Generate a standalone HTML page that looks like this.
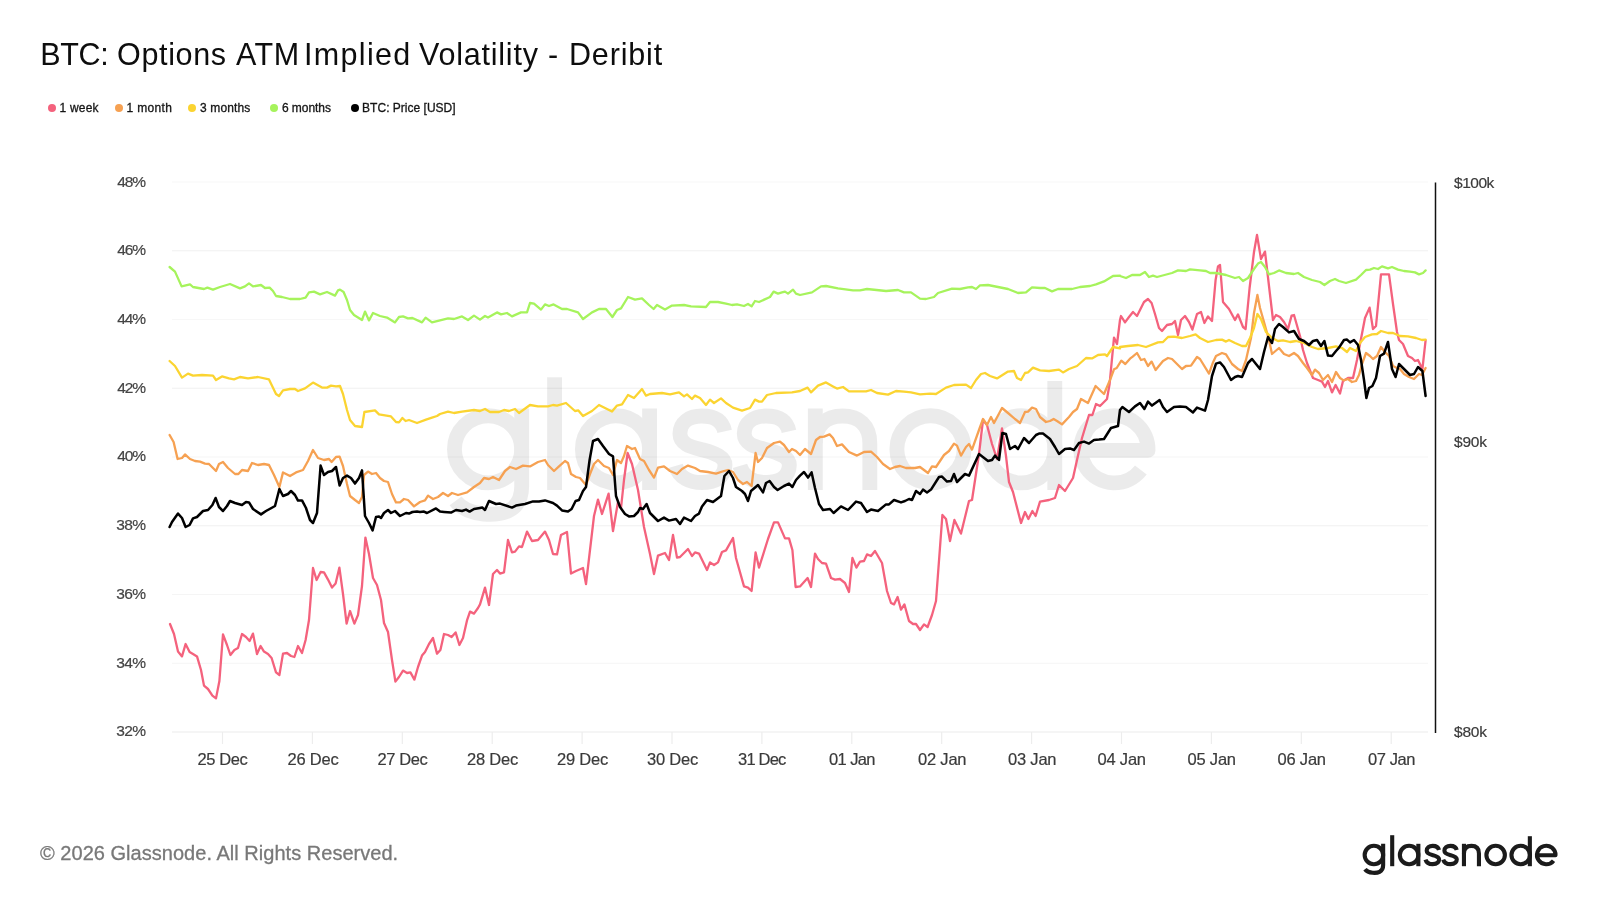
<!DOCTYPE html><html><head><meta charset="utf-8"><title>BTC: Options ATM Implied Volatility - Deribit</title>
<style>
html,body{margin:0;padding:0;background:#fff;}
body{width:1600px;height:900px;position:relative;overflow:hidden;font-family:"Liberation Sans",sans-serif;}
#txt{position:absolute;left:0;top:0;width:1600px;height:900px;will-change:transform;}
.t{position:absolute;white-space:nowrap;line-height:1;}
.dot{position:absolute;width:8px;height:8px;border-radius:50%;top:104px;}
</style></head><body>
<svg width="1600" height="900" viewBox="0 0 1600 900" style="position:absolute;left:0;top:0">
<line x1="172" x2="1428" y1="182.00" y2="182.00" stroke="#f8f8f8" stroke-width="1.2"/>
<line x1="172" x2="1428" y1="250.75" y2="250.75" stroke="#f0f0f0" stroke-width="1.2"/>
<line x1="172" x2="1428" y1="319.50" y2="319.50" stroke="#f7f7f7" stroke-width="1.2"/>
<line x1="172" x2="1428" y1="388.25" y2="388.25" stroke="#f0f0f0" stroke-width="1.2"/>
<line x1="172" x2="1428" y1="457.00" y2="457.00" stroke="#f6f6f6" stroke-width="1.2"/>
<line x1="172" x2="1428" y1="525.75" y2="525.75" stroke="#f0f0f0" stroke-width="1.2"/>
<line x1="172" x2="1428" y1="594.50" y2="594.50" stroke="#f5f5f5" stroke-width="1.2"/>
<line x1="172" x2="1428" y1="663.25" y2="663.25" stroke="#f5f5f5" stroke-width="1.2"/>
<line x1="172" x2="1428" y1="732.00" y2="732.00" stroke="#ececec" stroke-width="1.2"/>
<line x1="222.5" x2="222.5" y1="732" y2="744" stroke="#ededed" stroke-width="1.2"/>
<line x1="312.4" x2="312.4" y1="732" y2="744" stroke="#ededed" stroke-width="1.2"/>
<line x1="402.3" x2="402.3" y1="732" y2="744" stroke="#ededed" stroke-width="1.2"/>
<line x1="492.2" x2="492.2" y1="732" y2="744" stroke="#ededed" stroke-width="1.2"/>
<line x1="582.1" x2="582.1" y1="732" y2="744" stroke="#ededed" stroke-width="1.2"/>
<line x1="672.0" x2="672.0" y1="732" y2="744" stroke="#ededed" stroke-width="1.2"/>
<line x1="761.9" x2="761.9" y1="732" y2="744" stroke="#ededed" stroke-width="1.2"/>
<line x1="851.8" x2="851.8" y1="732" y2="744" stroke="#ededed" stroke-width="1.2"/>
<line x1="941.7" x2="941.7" y1="732" y2="744" stroke="#ededed" stroke-width="1.2"/>
<line x1="1031.6" x2="1031.6" y1="732" y2="744" stroke="#ededed" stroke-width="1.2"/>
<line x1="1121.5" x2="1121.5" y1="732" y2="744" stroke="#ededed" stroke-width="1.2"/>
<line x1="1211.4" x2="1211.4" y1="732" y2="744" stroke="#ededed" stroke-width="1.2"/>
<line x1="1301.3" x2="1301.3" y1="732" y2="744" stroke="#ededed" stroke-width="1.2"/>
<line x1="1391.2" x2="1391.2" y1="732" y2="744" stroke="#ededed" stroke-width="1.2"/>
<g fill="none" stroke-width="4.1" stroke-linecap="butt" stroke-linejoin="round" stroke="#000" opacity="0.075" transform="translate(-4504.69,-2657.77) scale(3.634)"><circle cx="1373.9" cy="855.0" r="9.25"/><path d="M1383.15,843.8 V865.2 C1383.15,872.5 1377.15,873.2 1372.65,872.8 C1368.65,872.4 1366.15,870.8 1364.95,869.2"/><path d="M1392.2,835.2 V866.2"/><circle cx="1409.1" cy="855.0" r="9.25"/><path d="M1418.35,843.8 V866.2"/><path d="M1439.0,850.05 C1438.2,846.4499999999999 1435.2,845.8499999999999 1432.7,845.8499999999999 C1429.2,845.8499999999999 1426.7,847.6499999999999 1426.7,850.7499999999999 C1426.7,853.8 1430.2,854.4 1433.1000000000001,855.2 C1436.5,856.1 1439.1000000000001,857.2 1439.1000000000001,859.3500000000001 C1439.1000000000001,862.7500000000001 1436.3,864.1500000000001 1432.7,864.1500000000001 C1429.5,864.1500000000001 1426.5,862.95 1425.5,859.5500000000001"/><path d="M1456.7,850.05 C1455.9,846.4499999999999 1452.9,845.8499999999999 1450.4,845.8499999999999 C1446.9,845.8499999999999 1444.4,847.6499999999999 1444.4,850.7499999999999 C1444.4,853.8 1447.9,854.4 1450.8000000000002,855.2 C1454.2,856.1 1456.8000000000002,857.2 1456.8000000000002,859.3500000000001 C1456.8000000000002,862.7500000000001 1454.0,864.1500000000001 1450.4,864.1500000000001 C1447.2,864.1500000000001 1444.2,862.95 1443.2,859.5500000000001"/><path d="M1463.95,843.8 V866.2"/><path d="M1463.95,853.4 C1463.95,848.3 1466.95,845.8499999999999 1471.45,845.8499999999999 C1475.95,845.8499999999999 1478.95,848.3 1478.95,853.4 V866.2"/><circle cx="1495.65" cy="855.0" r="9.25"/><circle cx="1520.7" cy="855.0" r="9.25"/><path d="M1529.8500000000001,836.2 V866.2"/><path d="M1537.0,855.3 H1555.5 A9.25,9.25 0 1 0 1553.54,860.69"/></g>
<line x1="1435.5" x2="1435.5" y1="182.5" y2="733" stroke="#111" stroke-width="1.5"/>
<path d="M170,624 L174,634 L178,651.6 L182,656.4 L185.6,644 L189.6,652 L193,654 L197,656.4 L201,670 L204,685.6 L208,689 L212.4,695.6 L216,698.4 L219.4,681 L223,634.4 L227,645 L230.4,655 L234.4,650 L238,648 L242,634 L246,637 L249.6,641 L253,633.6 L257,654 L260.6,646 L264,651.6 L268,654 L271.6,658 L276,672.4 L279.4,675 L283,653.6 L287,653 L291,656 L294.4,657 L298,646 L302,653 L305.6,640 L309,620 L313,568 L316.6,580 L320.6,572 L324,572.4 L328,579.6 L332,587.6 L335.6,583.6 L339.4,567.6 L343,594 L346.6,623.6 L350,611 L354.4,623.6 L358,615 L362,586 L365.4,537.6 L369,554 L373,578 L377,585 L381,600 L384,623 L388,632 L392,660 L395.4,681.6 L399,677 L403,670.6 L407,673 L410.4,672.4 L414.4,679.6 L418,667 L422,655.6 L425,652 L429,644 L433,638 L437,653.6 L440.4,650 L444,634 L448,635 L451.6,637 L455.6,632.4 L459.4,645 L463,638 L467,620.4 L470,611.6 L474,613.6 L478,608 L480,604.4 L485,587.6 L489,605 L493,574 L497,570 L500,573.6 L504,572.4 L508,540 L512,552.4 L515,551.6 L519,546.4 L522,547 L527,531.6 L532,541 L538,540 L545,531.6 L549,540 L553,554 L557,554.4 L561,535 L567,532 L571,573.6 L576,571 L583,568 L586,584 L594,516 L598,499.6 L602,514 L608.6,493.6 L613,531 L618,502 L621,508 L624,480 L627.6,453 L632,464 L638,490 L644,527 L650,554 L654,574 L658,555.6 L665,553 L669,560 L673,535 L677,557.6 L680,557 L688,549 L692,556 L695,552.4 L699,553.6 L707,570 L710,562.4 L714,565 L718,562.4 L722,552 L726,550.4 L733,538 L736,558 L744,586.4 L748,587.6 L751.6,591 L755.6,552.4 L759,567.6 L768,539 L774,522.4 L778,522.4 L785,538.4 L789,538.4 L792.4,550 L795.6,587 L800,586.4 L807.6,578 L811,587 L815,553.6 L818,559 L822,563 L826,563.6 L831,578 L835,579.6 L840,579 L845,583 L849,592 L852.4,558 L856.4,567.6 L860,561.6 L864,561 L867,554.4 L871,556 L875,551 L882,563 L887,591 L891,603 L894,604.4 L897.6,597 L901,609.6 L904.4,604.4 L909,621 L913,624 L916,624 L920,630 L924,624.4 L927.6,627 L932,615 L936,601 L942.4,515 L946,519 L950,541 L954.4,520 L961,533.6 L969,501 L972,500 L979,454 L983,420 L987,425 L992,444 L997,459 L1002,428.4 L1006,456 L1009,482 L1013,492 L1021,523 L1025,512 L1028.4,519 L1032.4,511 L1035.6,516 L1040,501.6 L1049,500 L1055,498 L1059,485 L1065,491 L1073,478 L1077,460 L1082,438 L1089,415 L1092.4,415 L1096,404 L1100,406 L1107,399 L1109.6,384 L1114,337.6 L1117,344 L1120,320 L1121,316 L1125,322.4 L1129,317 L1133,312 L1137,316 L1140,310 L1144,302 L1148,299 L1151.6,303 L1155,314 L1159,328 L1162,331 L1167,325 L1172,324 L1175,321 L1178,335 L1181,320 L1185,316 L1189,322 L1192.4,329.6 L1197,314 L1201,312 L1204.4,323 L1208,316.4 L1212,321 L1215.6,280 L1218,266.4 L1220,265 L1223,302 L1229,309 L1235,320 L1238,314.4 L1243,327 L1245.6,329 L1249.6,288 L1254,252 L1257,235 L1261,259 L1265,251.6 L1269,286 L1273,320 L1276,315 L1280,317 L1284,322 L1288,329 L1291.6,315.6 L1294,315 L1300,336 L1303,350 L1307,363 L1313,378 L1318,380 L1322,381.6 L1325,387 L1328,381 L1332,392.4 L1335.6,385 L1340,393.6 L1343,381 L1348,378 L1353,378 L1357,360 L1360,344 L1365,318 L1369.6,307.6 L1373,329 L1376,326 L1381,274.4 L1389,274.4 L1393,304 L1397,332 L1399,340 L1403,344 L1408,356 L1412,358 L1415,361 L1418,360 L1422.4,369 L1425.6,340.4" fill="none" stroke="#f4627d" stroke-width="2.3" stroke-linejoin="round" stroke-linecap="round"/>
<path d="M169.6,435 L173.6,442 L177.6,459 L182,458 L185,454.4 L190,459 L195,461 L200,461.6 L205,463.6 L209,464 L213,468 L216,471 L219,464 L223,462 L228,468 L235,474 L238.4,474 L242,470 L248,471 L252,463 L258,465 L264,464 L269,465 L274,475 L279.4,487 L283,472.4 L290,476 L296,472.4 L303,470 L308,461 L313,450 L318,458 L324,460 L329,459 L331.6,462 L336,457 L339.6,456.6 L343,466 L347,484 L350,496 L355,500 L359,503 L362,497 L364,475 L368,471.6 L372,474 L376,473 L380,478 L384,481 L388,482 L392,494 L396,502.4 L400,502.4 L404,499 L408,500 L414,506.4 L420,502 L425,500.4 L428,495.6 L433,499 L438,497 L443,493 L448,496 L452,493 L458,495 L467,492.4 L474,487 L480,483 L484,478 L489,479 L493,477 L499,480 L505,471 L510,467 L516,469 L523,465.6 L530,466.4 L538,462 L545,460 L548,465 L554,471 L559,466.4 L565,461 L568,463 L571,474 L576,477 L580,478 L586,485 L590,474 L594,464 L598,460 L604,466 L609,468 L613,475 L617,460 L621,463 L624,456 L627,446 L632,449 L635,448 L640,459 L644,461 L649,470 L654,477.6 L658,467.6 L664,466.4 L670,471 L677,474 L682,469 L688,465.6 L695,468 L700,471 L708,472 L716,473.6 L724,471 L728,470 L733,472 L738,480 L743,484 L747,482 L751.6,486 L755.6,453 L758,462 L762,458 L767,448 L774,443 L780,441.6 L784,445 L789,452 L792,449 L796,451 L800,455 L805,449 L811,454 L816,440 L820,437 L824,436.6 L829.6,434.4 L833,438 L837,446 L842,444.4 L849,452 L857,455.6 L864,452 L871,451.6 L877,457 L883,464 L890,469 L895,467 L900,466 L906,468 L915,468 L920,467 L928,473 L932,466.4 L936,467 L944,455 L949,451 L954,443.6 L957,445.6 L961,455.6 L966,447 L969,444 L972,449.6 L979,430 L983,419 L987,425 L991,417 L994,423 L1002,408 L1008,413 L1015,419 L1020,423 L1025,412 L1028,411.6 L1032,407.6 L1036,409 L1040,417 L1046,422 L1050,421 L1053.6,419 L1057,421 L1062,424.4 L1069,417 L1073,412 L1077,409 L1081,399 L1088,403 L1095.6,386 L1104,394 L1110,380 L1114,369.3 L1116.7,368 L1121.3,360.7 L1125.3,364 L1130,358.7 L1132.7,356.7 L1137,353 L1141,360 L1144.4,359 L1148,366 L1151.6,361.6 L1155.6,370 L1163,361 L1168,358 L1172,359 L1182,369 L1186,366 L1191,365.6 L1197,357 L1200,359 L1209,373.6 L1213,362.4 L1216,356 L1222,353 L1226,354.4 L1232,364 L1238,369 L1242,371 L1246,360 L1251,338 L1254,313 L1257.4,295 L1260,308 L1264,322 L1269,340 L1272,354 L1279,348 L1284,354 L1289,356 L1294,353 L1298,356 L1303,363 L1307,368 L1312,375 L1315,369.6 L1319,373 L1323,380 L1328,375 L1332,382 L1336,372 L1340,378 L1343.6,380.4 L1348,379 L1352,382 L1356,381 L1359,375 L1362,364 L1366,353 L1370,356 L1373,359 L1377,356 L1381,347 L1385,352 L1389,356 L1393,366 L1397,368 L1400,369 L1404,374 L1409,377 L1414,379 L1419,374 L1422,375 L1425.6,368" fill="none" stroke="#f6a152" stroke-width="2.3" stroke-linejoin="round" stroke-linecap="round"/>
<path d="M169.6,361 L175,366 L182,377.6 L188,373.6 L193,375.6 L202,375 L213,375.6 L216,380 L222,376.4 L229,378.4 L234,379.4 L240,377 L248,378.4 L258,377 L269,379.4 L276,394 L279,396 L283,390.4 L290,389 L295,389 L298,391 L305,388.4 L313,382.6 L322,387.6 L327,387.6 L331,385.6 L336,386.4 L340,386 L343,394 L347,410 L350,420 L355,426 L362,427 L364.4,412 L375,410.4 L379,414.4 L391,416.4 L396,422 L399,422.4 L402.4,418 L405.6,421 L409,420 L417,423 L426,419.6 L432,417.6 L437,416 L440,414 L448,411.6 L454,413 L462,411.6 L474,410 L480,411 L485,409 L490,412 L499,412 L504,410 L509,411 L515,409 L519,413 L530,405 L538,406.4 L548,406.4 L553,405 L557,405.6 L566,403 L575,411 L578.4,410.4 L583,416 L592,411 L599,405 L607,409 L612,411.6 L617,405.6 L622,404.4 L628,395 L634,398 L642,389 L646,395.6 L650,394 L662,393 L670,394.4 L679,392.4 L684,396.4 L687,394.4 L692,399 L695,395.6 L700,398 L706,405 L710,399.6 L714,403 L721,398.4 L726,403 L733,407.6 L742,410.6 L750,408 L755,399.6 L759,401.6 L762,401.6 L767,395 L776,393 L792,392.4 L800,391 L807.6,387.6 L811,392.4 L818,385.6 L826,382.4 L833,386.4 L837,388.6 L843,387 L849,391.4 L866,391.4 L871,390 L877,393 L888,394.6 L896,391 L904,391.6 L911,392.4 L920,394.4 L930,393.6 L936,394 L946,387.6 L954,385 L966,384.6 L971,388 L976,380 L981,374 L985,373 L990,376 L997,378.4 L1008,371.6 L1014,371 L1017,378 L1021,380 L1025,373 L1028,372.4 L1033,367.6 L1040,370.4 L1049,371 L1059,369.6 L1063,372.4 L1069,369 L1077,366 L1086,358 L1092,358.4 L1098,355 L1105,354.4 L1107,356 L1113,347 L1120,348.4 L1120,347 L1128,346 L1138,345 L1146,347 L1158,342.4 L1163,342 L1168,337 L1174,336.6 L1182,338 L1190,336 L1195.6,334.4 L1200,338 L1208,342 L1216,340 L1222,339.6 L1226,341.6 L1229,340 L1235,343 L1242,346 L1246,346 L1250,338 L1254,328 L1257.4,314 L1261,319 L1266,332 L1272,338 L1278,341 L1283,340.4 L1290,342 L1296,341 L1304,343 L1312,347 L1318,349 L1328,348 L1336,346.4 L1342,348 L1347,352 L1350,348 L1356,351 L1360,343 L1365,337 L1372,334.4 L1377,334 L1381,331 L1388,333 L1393,333 L1400,336 L1408,336.4 L1416,338 L1422,340 L1425.6,339.6" fill="none" stroke="#fbd431" stroke-width="2.3" stroke-linejoin="round" stroke-linecap="round"/>
<path d="M169.6,267 L175,271.6 L181.6,286.4 L190,284.4 L193,287 L204,289 L207.4,287.6 L213,289.6 L220,287 L230,284 L240,288.4 L245,286.4 L249,283.4 L253,286.4 L261,285 L265,288 L269.6,287.6 L273,291 L276,296 L282,297 L290,299 L300,299 L305.6,297.6 L309,292.4 L314,291.6 L320,294.4 L327,292 L335,295.6 L338,290.4 L340,289.6 L343.6,292 L347,300 L350,310 L354,315 L362,320 L365,311.6 L369,320.4 L373,313 L380,316 L387,317.6 L395,322.4 L399,317 L403,316.4 L408,318.4 L412.4,318 L422,322.4 L425.6,317.6 L432,322.4 L440,320.4 L448,318.4 L454,319 L462,316.4 L468,320 L474,315.6 L480,319.6 L485,316 L488,317.6 L497,312.4 L501,314.4 L507,313 L512,316.4 L521,312.4 L527,312.4 L530,303 L534,303.6 L541,309.6 L545,304.4 L549,306 L553.6,304.4 L562,309 L567,309 L578,312.4 L583,319 L592,312.4 L599,309 L606,309 L612.4,317 L617,310 L621,308.4 L628,297 L635,299.6 L642,298.4 L649,305 L653.6,309 L657,305 L665,309.6 L672,305.6 L684,305 L691,306.4 L706,307 L710,302 L718,302 L726,303.6 L732,305 L737,304.4 L744,306 L748,304 L751.6,306.4 L755,301 L759,302 L770,297 L773.6,291.6 L778,293.6 L782,292.4 L785,291.6 L788,293.6 L793,289.6 L796,293.6 L800,295 L812,292.4 L821,286.4 L826,286 L838,288.4 L853,290.4 L860,290.4 L867,289 L886,291 L898,290 L904,292.4 L911,292.4 L920,298.6 L926,299 L934,297 L938,293 L952,288.6 L960,289 L968,287.4 L972,287 L976,289 L980,285.4 L988,285 L998,287 L1008,289 L1018,293 L1026,292.4 L1032,287.4 L1040,288 L1045,288 L1052,291.4 L1058,289 L1072,289 L1080,287 L1090,286 L1096,284.4 L1104,281.4 L1113,276 L1120,275.6 L1120,276 L1126,278 L1132,275 L1140,275 L1145,272 L1149,277 L1153,275.6 L1157,277 L1172,273 L1178,270.4 L1186,271 L1190,269.4 L1200,270.4 L1206,271 L1210,273 L1216,273 L1226,275 L1235,278 L1239,277 L1243,281 L1248,278 L1254,269 L1258,263.6 L1261,262 L1265,267 L1269,274.4 L1274,273 L1279,270.4 L1286,273 L1294,274 L1298,273 L1304,277 L1312,280 L1320,282 L1324.4,285 L1330,281 L1335,279 L1339,281 L1346,283 L1356,279.6 L1361,275 L1366,270 L1370,269.6 L1374,268 L1378,269 L1382,266.4 L1388,268.4 L1392,267 L1398,269.6 L1404,271 L1410,271.6 L1415,272.4 L1419,274.4 L1423,273 L1425.6,270.4" fill="none" stroke="#a6f35c" stroke-width="2.3" stroke-linejoin="round" stroke-linecap="round"/>
<path d="M169.6,527 L172,522 L178,513.6 L182,518 L185.6,527 L189.6,525 L193,518.4 L197,517 L203,511 L208,510 L212.4,505 L215.6,498 L219,507 L223,511 L227,506 L230,501 L235,503 L242,505 L246,502 L249,502.4 L253,509 L261,514.4 L266,511 L275,506 L279.4,489 L283,496 L288,494 L291,491 L295,495 L298,500.6 L302,500.4 L306,508 L310,520 L313,523 L317,513 L320.6,465.6 L324,475 L328,472 L332,471 L336,467 L339.6,485.6 L343,478 L347,475.6 L351,478 L355,483.6 L359,478 L362,470.4 L365,516 L369,523 L372.6,530.4 L376,517 L379,516.6 L381,518 L384,513 L388,510 L391,513 L395,511 L400,516 L406,513 L409,513.6 L412.4,512 L417,511.6 L420,512 L424,511.6 L427,513 L436,508.4 L440,511.6 L444,512 L451,512.6 L456,510 L462,511 L466,509.6 L469.6,511.6 L474,509 L480,508 L482.4,507.6 L485,510 L489,501 L496,504 L500,503.6 L512,507.6 L516,505.6 L525,504 L533,501.4 L539,501.6 L545,500.4 L553,503 L557,505.6 L562,510.4 L568,511.6 L571.6,509 L575.6,501 L579,500 L583,491 L586,487 L589.6,460 L593,441 L598,439 L603,446 L609,454 L613,456.4 L616,496 L620,507 L625,514 L629,516.4 L634,516 L638,512 L640,508 L643,509 L646.6,504 L650,513 L654,517 L658,521 L664,517.6 L669,520.6 L676,519 L680,524 L684,517.6 L691,521 L695,516 L699,513.6 L702,506.4 L707,500 L713,502 L721,496 L724.4,476 L729,471 L733,478 L736,487 L742,491 L745,494 L748,501 L751,491 L758,485 L763,492.4 L766,483 L769.6,481 L774,487 L777.6,490 L784,486 L789,483.6 L792.4,487 L796,480 L800,475.6 L804,472 L808,477.6 L811.6,472.4 L815,488 L819,504 L823,510 L830,509 L833.6,513 L841,506.4 L848,510 L856,501.6 L861,503 L867,512 L871,509.6 L878,511 L886,504.4 L889,504.4 L894,500 L901,502.4 L905,501 L909,499 L912,500 L916,491 L920,494 L923,489.6 L927,492.4 L931,489.6 L939,477 L942,476.6 L947,481.6 L951,481 L954,474 L957,482 L965,474 L969,475.6 L979,454 L988,461 L992,460 L995,455.6 L999,460 L1002.4,433 L1006,434 L1010,449 L1015,446 L1018,449 L1024,438 L1029,443 L1036,435 L1039,433.6 L1043,433.6 L1050,439 L1055,447 L1059,454 L1065,449 L1070,448.4 L1074,450 L1079,443 L1084,441.6 L1089,443.6 L1094,440 L1099,439.6 L1104,439 L1111,428 L1118,426 L1120,410 L1122.4,407 L1129,412 L1135,406.4 L1140,403 L1144.4,409 L1148,401.6 L1152,405.6 L1159.6,400 L1163,407 L1167,412 L1174,407 L1180,406.6 L1186,407 L1193,412.4 L1197,407.6 L1205,410.6 L1208,400 L1212,376 L1216,363.6 L1220,362.4 L1224,367 L1231,380 L1235,377 L1238,376 L1242,377 L1248,363 L1252,359 L1256,364 L1260,369 L1264,352 L1268,337 L1272,343 L1275,329 L1279,324 L1283,327 L1289,332.4 L1294,331 L1299,339 L1304,341 L1309,345 L1313,341 L1317,340 L1321,346 L1324.4,341 L1328,355.6 L1332,356 L1336,351 L1339,347.6 L1344,340 L1347,339.6 L1350,342.4 L1354,340 L1358,345 L1361,360 L1364,380 L1366.4,398 L1369,388 L1372.4,386 L1376,378 L1380,356 L1384,353.6 L1388,342 L1392,369 L1395.6,377 L1399,364 L1404,369 L1410,375 L1414,374 L1418,367 L1422.4,371 L1425.6,396" fill="none" stroke="#000" stroke-width="2.5" stroke-linejoin="round" stroke-linecap="round"/>
<g fill="none" stroke-width="4.1" stroke-linecap="butt" stroke-linejoin="round" stroke="#1b1b1b"><circle cx="1373.9" cy="855.0" r="9.25"/><path d="M1383.15,843.8 V865.2 C1383.15,872.5 1377.15,873.2 1372.65,872.8 C1368.65,872.4 1366.15,870.8 1364.95,869.2"/><path d="M1392.2,835.2 V866.2"/><circle cx="1409.1" cy="855.0" r="9.25"/><path d="M1418.35,843.8 V866.2"/><path d="M1439.0,850.05 C1438.2,846.4499999999999 1435.2,845.8499999999999 1432.7,845.8499999999999 C1429.2,845.8499999999999 1426.7,847.6499999999999 1426.7,850.7499999999999 C1426.7,853.8 1430.2,854.4 1433.1000000000001,855.2 C1436.5,856.1 1439.1000000000001,857.2 1439.1000000000001,859.3500000000001 C1439.1000000000001,862.7500000000001 1436.3,864.1500000000001 1432.7,864.1500000000001 C1429.5,864.1500000000001 1426.5,862.95 1425.5,859.5500000000001"/><path d="M1456.7,850.05 C1455.9,846.4499999999999 1452.9,845.8499999999999 1450.4,845.8499999999999 C1446.9,845.8499999999999 1444.4,847.6499999999999 1444.4,850.7499999999999 C1444.4,853.8 1447.9,854.4 1450.8000000000002,855.2 C1454.2,856.1 1456.8000000000002,857.2 1456.8000000000002,859.3500000000001 C1456.8000000000002,862.7500000000001 1454.0,864.1500000000001 1450.4,864.1500000000001 C1447.2,864.1500000000001 1444.2,862.95 1443.2,859.5500000000001"/><path d="M1463.95,843.8 V866.2"/><path d="M1463.95,853.4 C1463.95,848.3 1466.95,845.8499999999999 1471.45,845.8499999999999 C1475.95,845.8499999999999 1478.95,848.3 1478.95,853.4 V866.2"/><circle cx="1495.65" cy="855.0" r="9.25"/><circle cx="1520.7" cy="855.0" r="9.25"/><path d="M1529.8500000000001,836.2 V866.2"/><path d="M1537.0,855.3 H1555.5 A9.25,9.25 0 1 0 1553.54,860.69"/></g>
</svg>
<div id="txt">
<div class="t" style="left:40.25px;top:39px;font-size:30.5px;letter-spacing:-0.333px;color:#0d0d0d">BTC:</div>
<div class="t" style="left:117px;top:39px;font-size:30.5px;letter-spacing:0.667px;color:#0d0d0d">Options</div>
<div class="t" style="left:236px;top:39px;font-size:30.5px;letter-spacing:0.5px;color:#0d0d0d">ATM</div>
<div class="t" style="left:304px;top:39px;font-size:30.5px;letter-spacing:1.333px;color:#0d0d0d">Implied</div>
<div class="t" style="left:419px;top:39px;font-size:30.5px;letter-spacing:0.778px;color:#0d0d0d">Volatility</div>
<div class="t" style="left:548px;top:39px;font-size:30.5px;letter-spacing:4.0px;color:#0d0d0d">-</div>
<div class="t" style="left:569px;top:39px;font-size:30.5px;letter-spacing:0.833px;color:#0d0d0d">Deribit</div>
<div class="dot" style="left:48px;background:#f4627d"></div>
<div class="t" style="left:59.5px;top:101.9px;font-size:12px;letter-spacing:0.2px;color:#151515;-webkit-text-stroke:0.3px #151515">1 week</div>
<div class="dot" style="left:115.1px;background:#f6a152"></div>
<div class="t" style="left:126.5px;top:101.9px;font-size:12px;letter-spacing:0.333px;color:#151515;-webkit-text-stroke:0.3px #151515">1 month</div>
<div class="dot" style="left:187.6px;background:#fbd431"></div>
<div class="t" style="left:200px;top:101.9px;font-size:12px;letter-spacing:0.143px;color:#151515;-webkit-text-stroke:0.3px #151515">3 months</div>
<div class="dot" style="left:270px;background:#a6f35c"></div>
<div class="t" style="left:281.9px;top:101.9px;font-size:12px;letter-spacing:-0.043px;color:#151515;-webkit-text-stroke:0.3px #151515">6 months</div>
<div class="dot" style="left:350.7px;background:#000"></div>
<div class="t" style="left:362.1px;top:101.9px;font-size:12px;letter-spacing:0.013px;color:#151515;-webkit-text-stroke:0.3px #151515">BTC: Price [USD]</div>
<div class="t" style="left:117.2px;top:173.6px;font-size:15.5px;letter-spacing:-1.1px;color:#444;-webkit-text-stroke:0.2px #444">48%</div>
<div class="t" style="left:117.2px;top:242.3px;font-size:15.5px;letter-spacing:-1.1px;color:#444;-webkit-text-stroke:0.2px #444">46%</div>
<div class="t" style="left:117.2px;top:311.0px;font-size:15.5px;letter-spacing:-1.1px;color:#444;-webkit-text-stroke:0.2px #444">44%</div>
<div class="t" style="left:117.2px;top:379.7px;font-size:15.5px;letter-spacing:-1.1px;color:#444;-webkit-text-stroke:0.2px #444">42%</div>
<div class="t" style="left:117.2px;top:448.4px;font-size:15.5px;letter-spacing:-1.1px;color:#444;-webkit-text-stroke:0.2px #444">40%</div>
<div class="t" style="left:116.2px;top:517.1px;font-size:15.5px;letter-spacing:-0.6px;color:#444;-webkit-text-stroke:0.2px #444">38%</div>
<div class="t" style="left:116.2px;top:585.8px;font-size:15.5px;letter-spacing:-0.6px;color:#444;-webkit-text-stroke:0.2px #444">36%</div>
<div class="t" style="left:116.2px;top:654.5px;font-size:15.5px;letter-spacing:-0.6px;color:#444;-webkit-text-stroke:0.2px #444">34%</div>
<div class="t" style="left:116.2px;top:723.2px;font-size:15.5px;letter-spacing:-0.6px;color:#444;-webkit-text-stroke:0.2px #444">32%</div>
<div class="t" style="left:1454.1px;top:174.6px;font-size:15.5px;letter-spacing:-0.5px;color:#3a3a3a;-webkit-text-stroke:0.2px #3a3a3a">$100k</div>
<div class="t" style="left:1454.1px;top:433.6px;font-size:15.5px;letter-spacing:-0.267px;color:#3a3a3a;-webkit-text-stroke:0.2px #3a3a3a">$90k</div>
<div class="t" style="left:1454.1px;top:723.9px;font-size:15.5px;letter-spacing:-0.267px;color:#3a3a3a;-webkit-text-stroke:0.2px #3a3a3a">$80k</div>
<div class="t" style="left:197.5px;top:751.2px;font-size:16.5px;letter-spacing:-0.4px;color:#3a3a3a;-webkit-text-stroke:0.2px #3a3a3a">25 Dec</div>
<div class="t" style="left:287.5px;top:751.2px;font-size:16.5px;letter-spacing:-0.2px;color:#3a3a3a;-webkit-text-stroke:0.2px #3a3a3a">26 Dec</div>
<div class="t" style="left:377.5px;top:751.2px;font-size:16.5px;letter-spacing:-0.4px;color:#3a3a3a;-webkit-text-stroke:0.2px #3a3a3a">27 Dec</div>
<div class="t" style="left:467px;top:751.2px;font-size:16.5px;letter-spacing:-0.2px;color:#3a3a3a;-webkit-text-stroke:0.2px #3a3a3a">28 Dec</div>
<div class="t" style="left:557px;top:751.2px;font-size:16.5px;letter-spacing:-0.2px;color:#3a3a3a;-webkit-text-stroke:0.2px #3a3a3a">29 Dec</div>
<div class="t" style="left:647px;top:751.2px;font-size:16.5px;letter-spacing:-0.2px;color:#3a3a3a;-webkit-text-stroke:0.2px #3a3a3a">30 Dec</div>
<div class="t" style="left:738px;top:751.2px;font-size:16.5px;letter-spacing:-0.8px;color:#3a3a3a;-webkit-text-stroke:0.2px #3a3a3a">31 Dec</div>
<div class="t" style="left:829px;top:751.2px;font-size:16.5px;letter-spacing:-0.6px;color:#3a3a3a;-webkit-text-stroke:0.2px #3a3a3a">01 Jan</div>
<div class="t" style="left:918px;top:751.2px;font-size:16.5px;letter-spacing:-0.2px;color:#3a3a3a;-webkit-text-stroke:0.2px #3a3a3a">02 Jan</div>
<div class="t" style="left:1008px;top:751.2px;font-size:16.5px;letter-spacing:-0.2px;color:#3a3a3a;-webkit-text-stroke:0.2px #3a3a3a">03 Jan</div>
<div class="t" style="left:1097.5px;top:751.2px;font-size:16.5px;letter-spacing:-0.2px;color:#3a3a3a;-webkit-text-stroke:0.2px #3a3a3a">04 Jan</div>
<div class="t" style="left:1187.5px;top:751.2px;font-size:16.5px;letter-spacing:-0.2px;color:#3a3a3a;-webkit-text-stroke:0.2px #3a3a3a">05 Jan</div>
<div class="t" style="left:1277.5px;top:751.2px;font-size:16.5px;letter-spacing:-0.2px;color:#3a3a3a;-webkit-text-stroke:0.2px #3a3a3a">06 Jan</div>
<div class="t" style="left:1368px;top:751.2px;font-size:16.5px;letter-spacing:-0.4px;color:#3a3a3a;-webkit-text-stroke:0.2px #3a3a3a">07 Jan</div>
<div class="t" style="left:40px;top:843.4px;font-size:20px;letter-spacing:0.027px;color:#787878;-webkit-text-stroke:0.3px #787878">© 2026 Glassnode. All Rights Reserved.</div>
</div></body></html>
